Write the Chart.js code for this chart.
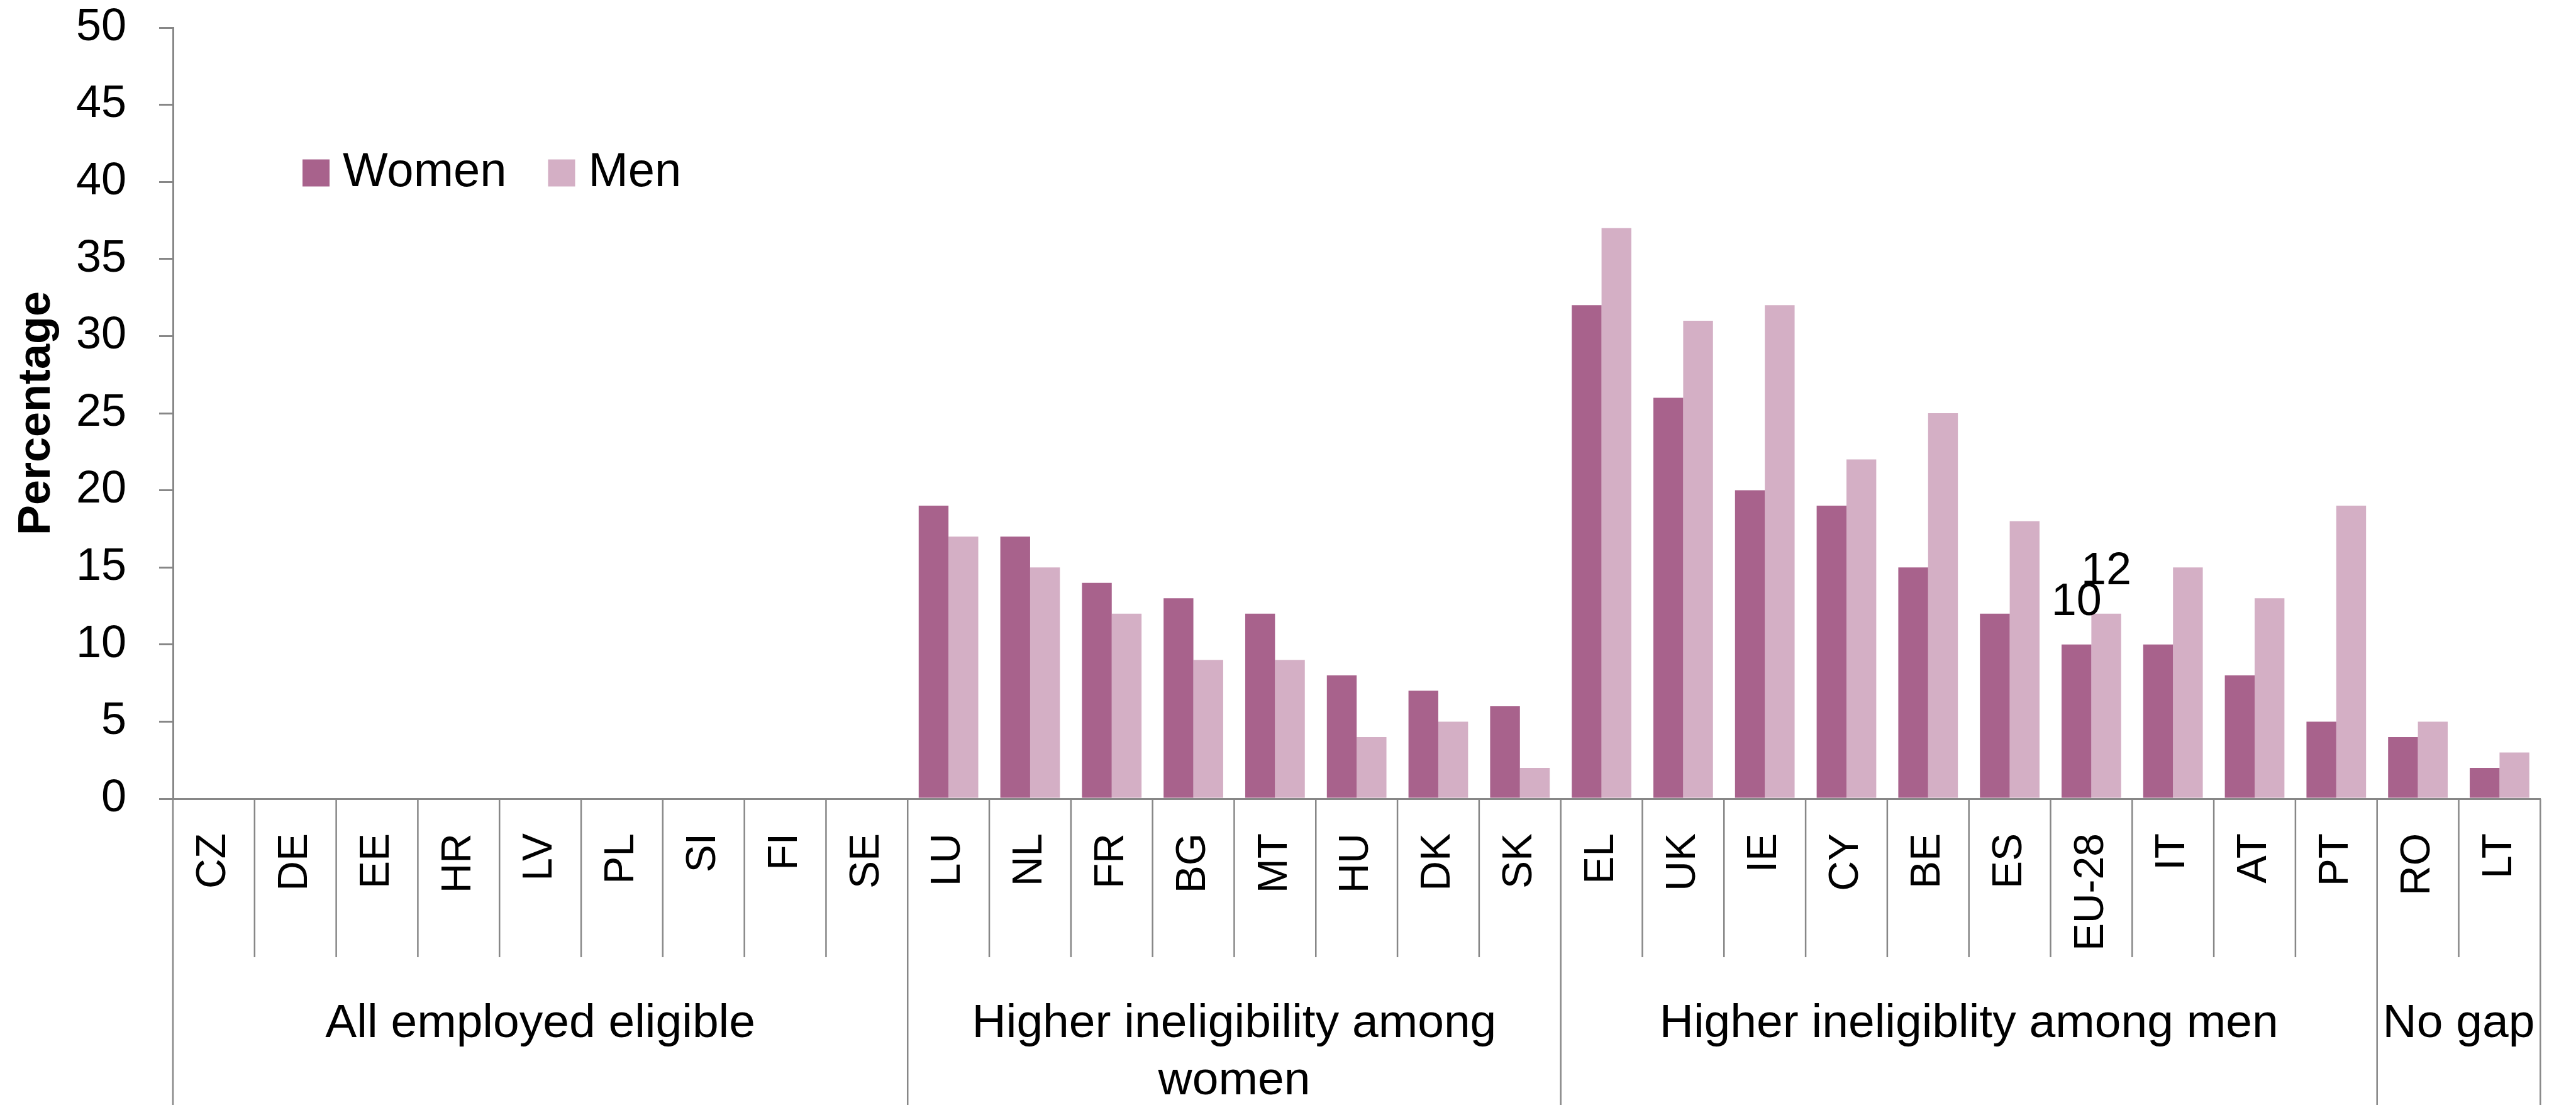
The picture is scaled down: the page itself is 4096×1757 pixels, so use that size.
<!DOCTYPE html>
<html>
<head>
<meta charset="utf-8">
<script src="https://cdn.jsdelivr.net/npm/chart.js@4.4.1/dist/chart.umd.min.js"></script>
<style>
  html, body { margin: 0; padding: 0; background: #fff; }
  canvas { display: block; }
</style>
</head>
<body>
<canvas id="chart" width="4096" height="1757"></canvas>
<script>
// Data
const countries = ['CZ', 'DE', 'EE', 'HR', 'LV', 'PL', 'SI', 'FI', 'SE',
    'LU', 'NL', 'FR', 'BG', 'MT', 'HU', 'DK', 'SK',
    'EL', 'UK', 'IE', 'CY', 'BE', 'ES', 'EU-28', 'IT', 'AT', 'PT',
    'RO', 'LT'];
const women = [0, 0, 0, 0, 0, 0, 0, 0, 0,
    19, 17, 14, 13, 12, 8, 7, 6,
    32, 26, 20, 19, 15, 12, 10, 10, 8, 5,
    4, 2];
const men = [0, 0, 0, 0, 0, 0, 0, 0, 0,
    17, 15, 12, 9, 9, 4, 5, 2,
    37, 31, 32, 22, 25, 18, 12, 15, 13, 19,
    5, 3];
const groupNames = [['All employed eligible'], ['Higher ineligibility among', 'women'],
    ['Higher ineligiblity among men'], ['No gap']];
const groupSizes = [9, 8, 10, 2];
const labelledCountry = 'EU-28';

const FONT = 'Liberation Sans';
const AXIS_GREY = '#878787';

// Category separators below the axis and the group labels
const groupAxis = {
    id: 'groupAxis',
    afterDraw(chart) {
        const { ctx, chartArea, scales: { x } } = chart;
        const step = x.getPixelForValue(1) - x.getPixelForValue(0);
        const edge = i => x.getPixelForValue(i) - step / 2;

        const groupEdges = [0];
        groupSizes.forEach(n => groupEdges.push(groupEdges[groupEdges.length - 1] + n));

        ctx.save();
        ctx.strokeStyle = AXIS_GREY;
        ctx.lineWidth = 2.5;
        for (let i = 0; i <= countries.length; i++) {
            const px = edge(i);
            const bottom = groupEdges.includes(i) ? chart.height : chartArea.bottom + 252;
            ctx.beginPath();
            ctx.moveTo(px, chartArea.bottom);
            ctx.lineTo(px, bottom);
            ctx.stroke();
        }

        ctx.fillStyle = '#000';
        ctx.font = `75px "${FONT}"`;
        ctx.textAlign = 'center';
        ctx.textBaseline = 'middle';
        groupNames.forEach((lines, g) => {
            const cx = (edge(groupEdges[g]) + edge(groupEdges[g + 1])) / 2;
            lines.forEach((line, k) => {
                ctx.fillText(line, cx, chartArea.bottom + 358 + k * 91);
            });
        });
        ctx.restore();
    }
};

// Legend sitting inside the plot area
const insideLegend = {
    id: 'insideLegend',
    afterDraw(chart, args, opts) {
        const { ctx, chartArea } = chart;
        let x = chartArea.left + opts.x;
        const y = chartArea.top + opts.y;
        ctx.save();
        ctx.font = `76px "${FONT}"`;
        ctx.textBaseline = 'middle';
        chart.data.datasets.forEach(ds => {
            ctx.fillStyle = ds.backgroundColor;
            ctx.fillRect(x, y - opts.box / 2, opts.box, opts.box);
            x += opts.box + opts.gap;
            ctx.fillStyle = '#000';
            ctx.fillText(ds.label, x, y);
            x += ctx.measureText(ds.label).width + opts.spacing;
        });
        ctx.restore();
    }
};

// Value labels over the EU-28 bars
const valueLabels = {
    id: 'valueLabels',
    afterDatasetsDraw(chart) {
        const { ctx } = chart;
        const idx = countries.indexOf(labelledCountry);
        ctx.save();
        ctx.font = `72px "${FONT}"`;
        ctx.fillStyle = '#000';
        ctx.textAlign = 'center';
        ctx.textBaseline = 'alphabetic';
        chart.data.datasets.forEach((ds, d) => {
            const bar = chart.getDatasetMeta(d).data[idx];
            ctx.fillText(String(ds.data[idx]), bar.x, bar.y - 47);
        });
        ctx.restore();
    }
};

Chart.defaults.font.family = FONT;
Chart.defaults.color = '#000';

new Chart(document.getElementById('chart'), {
    type: 'bar',
    data: {
        labels: countries,
        datasets: [
            { label: 'Women', data: women, backgroundColor: '#A8628C' },
            { label: 'Men', data: men, backgroundColor: '#D4AFC5' }
        ]
    },
    options: {
        responsive: false,
        animation: false,
        devicePixelRatio: 1,
        layout: { padding: { top: 44, right: 34, left: 0, bottom: 0 } },
        datasets: {
            bar: { categoryPercentage: 0.73, barPercentage: 1.0 }
        },
        scales: {
            x: {
                grid: { display: false, drawTicks: false },
                border: { color: AXIS_GREY, width: 3 },
                ticks: {
                    autoSkip: false,
                    minRotation: 90,
                    maxRotation: 90,
                    padding: 55,
                    font: { size: 66, lineHeight: 1 }
                },
                afterFit(scale) { scale.height = 487; }
            },
            y: {
                min: 0,
                max: 50,
                grid: { drawOnChartArea: false, drawTicks: true, tickLength: 22, color: AXIS_GREY, lineWidth: 3 },
                border: { color: AXIS_GREY, width: 3 },
                ticks: { stepSize: 5, padding: 52, font: { size: 72, lineHeight: 1 } },
                title: {
                    display: true,
                    text: 'Percentage',
                    padding: { top: 16, bottom: 0 },
                    font: { size: 72, weight: 'bold' }
                },
                afterFit(scale) {
                    scale.width = 275;
                    // the tick padding only separates labels from tick marks here
                    scale.paddingTop = 0;
                    scale.paddingBottom = 0;
                }
            }
        },
        plugins: {
            legend: { display: false },
            tooltip: { enabled: false },
            insideLegend: { x: 206, y: 231, box: 43, gap: 21, spacing: 66 }
        }
    },
    plugins: [groupAxis, insideLegend, valueLabels]
});
</script>
</body>
</html>
